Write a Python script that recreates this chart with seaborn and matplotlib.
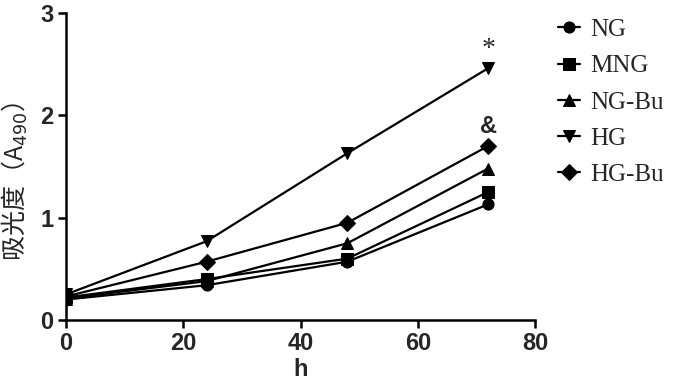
import pandas as pd
import matplotlib
matplotlib.use("Agg")
import matplotlib.pyplot as plt
import seaborn as sns

# data
hours = [0, 24, 48, 72]
groups = ["NG", "MNG", "NG-Bu", "HG", "HG-Bu"]
ng = [0.20, 0.34, 0.57, 1.13]
mng = [0.22, 0.40, 0.60, 1.25]
ng_bu = [0.21, 0.38, 0.75, 1.48]
hg = [0.25, 0.77, 1.63, 2.46]
hg_bu = [0.23, 0.57, 0.95, 1.70]
values = [ng, mng, ng_bu, hg, hg_bu]
markers = ["o", "s", "^", "v", "D"]

df = pd.DataFrame(
    [(g, h, v) for g, vals in zip(groups, values) for h, v in zip(hours, vals)],
    columns=["group", "h", "A490"],
)

sns.set_style("ticks")
plt.rcParams["font.family"] = ["Liberation Sans", "DejaVu Sans"]

fig = plt.figure(figsize=(7, 3.85), dpi=100)
ax = fig.add_axes([66 / 700, 1 - 320 / 385, (535 - 66) / 700, (320 - 13) / 385])

sns.lineplot(data=df, x="h", y="A490", hue="group", style="group",
             palette=["black"] * 5, markers=markers, dashes=False,
             markersize=8, linewidth=1.6, markeredgecolor="black",
             ax=ax, legend=True)

ax.set_xlim(0, 80)
ax.set_ylim(0, 3)
ax.set_xticks([0, 20, 40, 60, 80])
ax.set_yticks([0, 1, 2, 3])
for lab in ax.get_xticklabels() + ax.get_yticklabels():
    lab.set_fontweight("bold")
    lab.set_fontsize(17)
ax.tick_params(direction="out", length=6, width=1.8, color="black", pad=3)
for s in ["left", "bottom"]:
    ax.spines[s].set_linewidth(1.8)
    ax.spines[s].set_color("black")
sns.despine(ax=ax)
ax.margins(0)

ax.set_xlabel("h", fontsize=17, fontweight="bold", labelpad=2)
ax.set_ylabel("吸光度（A$_{490}$）", fontsize=18,
              family=["Noto Sans CJK SC", "DejaVu Sans"])
ax.yaxis.set_label_coords(-36 / 469, 0.45)

ax.text(72, 2.64, "*", ha="center", va="center", fontsize=20,
        family="Liberation Serif")
ax.text(72, 1.89, "&", ha="center", va="center", fontsize=17,
        fontweight="bold")

handles, labels = ax.get_legend_handles_labels()
ax.legend(handles, labels, loc="upper left", bbox_to_anchor=(535 / 700, 1.01),
          bbox_transform=fig.transFigure, frameon=False, handlelength=0.9,
          handletextpad=0.4, labelspacing=0.55,
          prop={"family": "Liberation Serif", "size": 18})

plt.savefig("out.png", dpi=100)
